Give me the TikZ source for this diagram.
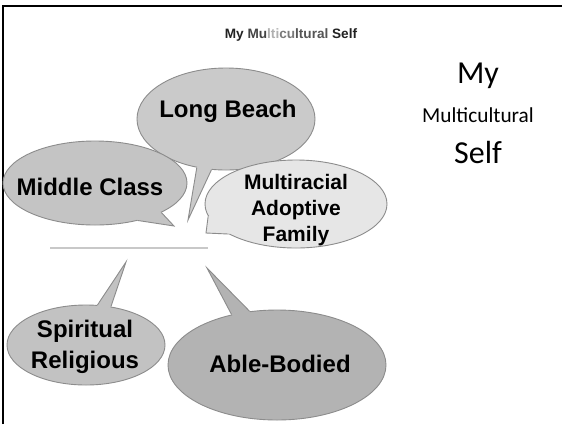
\documentclass[tikz,border=0pt]{standalone}
\usepackage{fontspec}
\setmainfont{Liberation Sans}
\newfontfamily\calib{Carlito}
\usetikzlibrary{shapes.geometric}
\definecolor{edgegray}{HTML}{8C8C8C}
\definecolor{lbfill}{HTML}{CACACA}
\definecolor{mcfill}{HTML}{C4C4C4}
\definecolor{mrfill}{HTML}{E6E6E6}
\definecolor{spfill}{HTML}{C2C2C2}
\definecolor{abfill}{HTML}{B3B3B3}
\definecolor{linegray}{HTML}{C8C8C8}
\begin{document}
\begin{tikzpicture}[x=1pt,y=-1pt,
  bubble/.style={ellipse, draw=edgegray, line width=0.9pt, inner sep=0pt},
  edge/.style={draw=edgegray, line width=0.9pt, line join=miter},
  big/.style={font=\fontsize{24}{31}\selectfont\bfseries, text=black, inner sep=0pt, align=center},
  mid/.style={font=\fontsize{21}{26}\selectfont\bfseries, text=black, inner sep=0pt, align=center},
  side/.style={inner sep=0pt, anchor=base, text=black}]
\useasboundingbox (0,0) rectangle (562,424);
\fill[white] (0,0) rectangle (562,424);
% frame
\draw[line width=2.4pt] (2.8,424) -- (2.8,6) -- (562,6);
% title
\node[side, font=\fontsize{13.6}{15}\selectfont\bfseries] (title) at (291,38.5)
  {\textcolor[HTML]{222222}{My} \textcolor[HTML]{444444}{Mu}\textcolor[HTML]{B0B0B0}{lti}\textcolor[HTML]{7A7A7A}{cu}\textcolor[HTML]{555555}{ltural} \textcolor[HTML]{222222}{Self}};
% right text
\node[side, font=\calib\fontsize{32}{36}\selectfont] (my) at (478,83) {My};
\node[side, font=\calib\fontsize{21.3}{24}\selectfont] (multi) at (478,122) {Multicultural};
\node[side, font=\calib\fontsize{32}{36}\selectfont] (self) at (478,163) {Self};
% Long Beach
\node[bubble, fill=lbfill, minimum width=178pt, minimum height=102pt] (lb) at (226,119) {};
\coordinate (lbtip) at (188,220);
\fill[lbfill] (lb.239) -- (lbtip) -- (lb.254) -- (lb.center) -- cycle;
\draw[edge] (lb.239) -- (lbtip) -- (lb.254);
\node[big, anchor=base] (lbt) at (228,117) {Long Beach};
% Middle Class
\node[bubble, fill=mcfill, minimum width=184pt, minimum height=84pt] (mc) at (95,183) {};
\coordinate (mctip) at (174,226);
\fill[mcfill] (mc.336) -- (mctip) -- (mc.319) -- (mc.center) -- cycle;
\draw[edge] (mc.336) -- (mctip) -- (mc.319);
\node[big, anchor=base] (mct) at (90,195) {Middle Class};
% Multiracial
\node[bubble, fill=mrfill, minimum width=182pt, minimum height=88pt] (mr) at (296,204) {};
\coordinate (mrtip) at (206,233);
\fill[mrfill] (mr.188) -- (mrtip) -- (mr.204) -- (mr.center) -- cycle;
\draw[edge] (mr.188) -- (mrtip) -- (mr.204);
\node[mid] (mrt) at (296,210.5) {Multiracial\\Adoptive\\Family};
% divider line
\coordinate (la) at (50,248);
\coordinate (lz) at (208,248);
\draw[linegray, line width=1.3pt] (la) -- (lz);
% Spiritual Religious
\node[bubble, fill=spfill, minimum width=158pt, minimum height=80pt] (sp) at (86,345) {};
\coordinate (sptip) at (126,262);
\fill[spfill] (sp.74) -- (sptip) -- (sp.57) -- (sp.center) -- cycle;
\draw[edge] (sp.74) -- (sptip) -- (sp.57);
\node[big] (spt) at (85,346.5) {Spiritual\\Religious};
% Able-Bodied
\node[bubble, fill=abfill, minimum width=218pt, minimum height=110pt] (ab) at (277,365) {};
\coordinate (abtip) at (207,268);
\fill[abfill] (ab.132) -- (abtip) -- (ab.117) -- (ab.center) -- cycle;
\draw[edge] (ab.132) -- (abtip) -- (ab.117);
\node[big, anchor=base] (abt) at (280,372) {Able-Bodied};
\end{tikzpicture}
\end{document}
